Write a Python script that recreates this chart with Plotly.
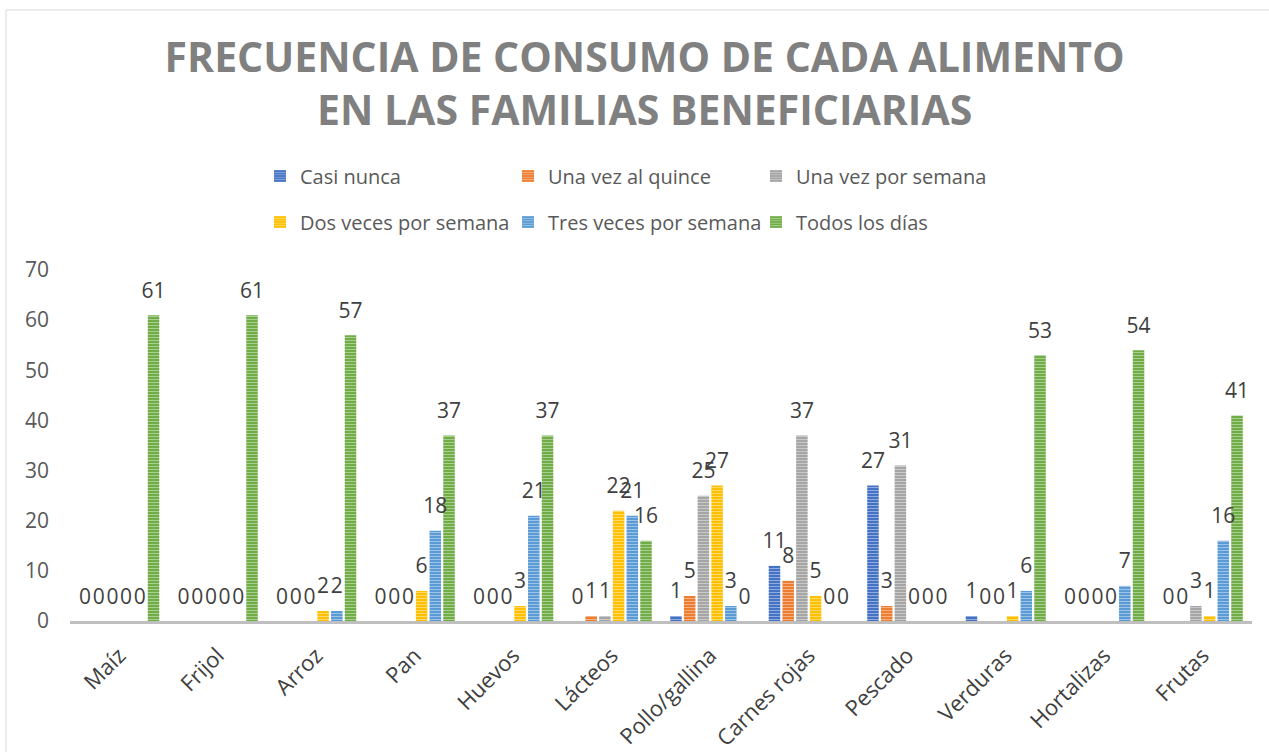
import plotly.graph_objects as go

categories = ["Maíz", "Frijol", "Arroz", "Pan", "Huevos", "Lácteos", "Pollo/gallina",
              "Carnes rojas", "Pescado", "Verduras", "Hortalizas", "Frutas"]
series_names = ["Casi nunca", "Una vez al quince", "Una vez por semana",
                "Dos veces por semana", "Tres veces por semana", "Todos los días"]
casi_nunca = [0, 0, 0, 0, 0, 0, 1, 11, 27, 1, 0, 0]
una_vez_quince = [0, 0, 0, 0, 0, 1, 5, 8, 3, 0, 0, 0]
una_vez_semana = [0, 0, 0, 0, 0, 1, 25, 37, 31, 0, 0, 3]
dos_veces_semana = [0, 0, 2, 6, 3, 22, 27, 5, 0, 1, 0, 1]
tres_veces_semana = [0, 0, 2, 18, 21, 21, 3, 0, 0, 6, 7, 16]
todos_los_dias = [61, 61, 57, 37, 37, 16, 0, 0, 0, 53, 54, 41]
y_ticks = [0, 10, 20, 30, 40, 50, 60, 70]

series_values = [casi_nunca, una_vez_quince, una_vez_semana,
                 dos_veces_semana, tres_veces_semana, todos_los_dias]
colors = ["#4472C4", "#ED7D31", "#A5A5A5", "#FFC000", "#5B9BD5", "#70AD47"]

W, H = 1269, 752
ML, MR, MT, MB = 70, 17, 270, 131
PW, PH = W - ML - MR, H - MT - MB

def px_x(p):
    return (p - ML) / PW

def px_y(p):
    return (H - MB - p) / PH

FONT = "Open Sans"
GRAY = "#595959"

fig = go.Figure()
for i, (name, vals, col) in enumerate(zip(series_names, series_values, colors)):
    fig.add_trace(go.Bar(
        x=categories, y=vals, name=name,
        marker=dict(color=col, line=dict(width=0),
                    pattern=dict(shape="-", fgcolor="white", size=3,
                                 solidity=0.3, fgopacity=0.45)),
        offsetgroup=str(i), legend="legend" if i < 3 else "legend2",
        hoverinfo="x+y+name",
    ))
for i, (name, vals) in enumerate(zip(series_names, series_values)):
    fig.add_trace(go.Scatter(
        x=categories, y=vals, mode="markers+text", text=[str(v) for v in vals],
        textposition="top center",
        textfont=dict(family=FONT, size=21, color="#404040"),
        marker=dict(size=18, color="rgba(0,0,0,0)"),
        offsetgroup=str(i), showlegend=False, hoverinfo="skip", cliponaxis=False,
    ))

fig.update_layout(
    width=W, height=H,
    margin=dict(l=ML, r=MR, t=MT, b=MB, pad=0, autoexpand=False),
    paper_bgcolor="white", plot_bgcolor="white",
    barmode="group", bargap=0.165, bargroupgap=0.16,
    scattermode="group", scattergap=0.165,
    font=dict(family=FONT, color=GRAY, size=20),
    title=dict(
        text="FRECUENCIA DE CONSUMO DE CADA ALIMENTO<br>EN LAS FAMILIAS BENEFICIARIAS",
        font=dict(family=FONT, size=41, color="#808080", weight="bold"),
        x=0.508, xanchor="center", xref="container",
        y=1 - 72 / H, yanchor="top", yref="container",
    ),
    xaxis=dict(
        range=[-0.5, 11.5], showline=True, linecolor="#BFBFBF", linewidth=3,
        showgrid=False, zeroline=False, ticks="", tickangle=-45,
        ticklabelstandoff=10, automargin=False,
        tickfont=dict(family=FONT, size=22, color="#404040"),
    ),
    yaxis=dict(
        range=[0, 70], tickvals=y_ticks, showgrid=False, zeroline=False,
        showline=False, ticks="", ticklabelstandoff=20, automargin=False,
        tickfont=dict(family=FONT, size=21, color=GRAY),
    ),
    legend=dict(
        orientation="h", xref="container", yref="container",
        x=260 / W, xanchor="left", y=1 - 176 / H, yanchor="middle",
        entrywidth=203, entrywidthmode="pixels", traceorder="normal",
        font=dict(family=FONT, size=20, color=GRAY), bgcolor="rgba(0,0,0,0)",
    ),
    legend2=dict(
        orientation="h", xref="container", yref="container",
        x=260 / W, xanchor="left", y=1 - 222 / H, yanchor="middle",
        entrywidth=203, entrywidthmode="pixels", traceorder="normal",
        font=dict(family=FONT, size=20, color=GRAY), bgcolor="rgba(0,0,0,0)",
    ),
    shapes=[dict(type="rect", xref="paper", yref="paper",
                 x0=px_x(6), x1=px_x(1280), y0=px_y(770), y1=px_y(10),
                 line=dict(color="#D9D9D9", width=1), fillcolor="rgba(0,0,0,0)",
                 layer="below")],
)

fig.write_html("out.html", config={"displayModeBar": False},
               post_script="document.body.style.margin='0px';document.body.style.overflow='hidden';")
